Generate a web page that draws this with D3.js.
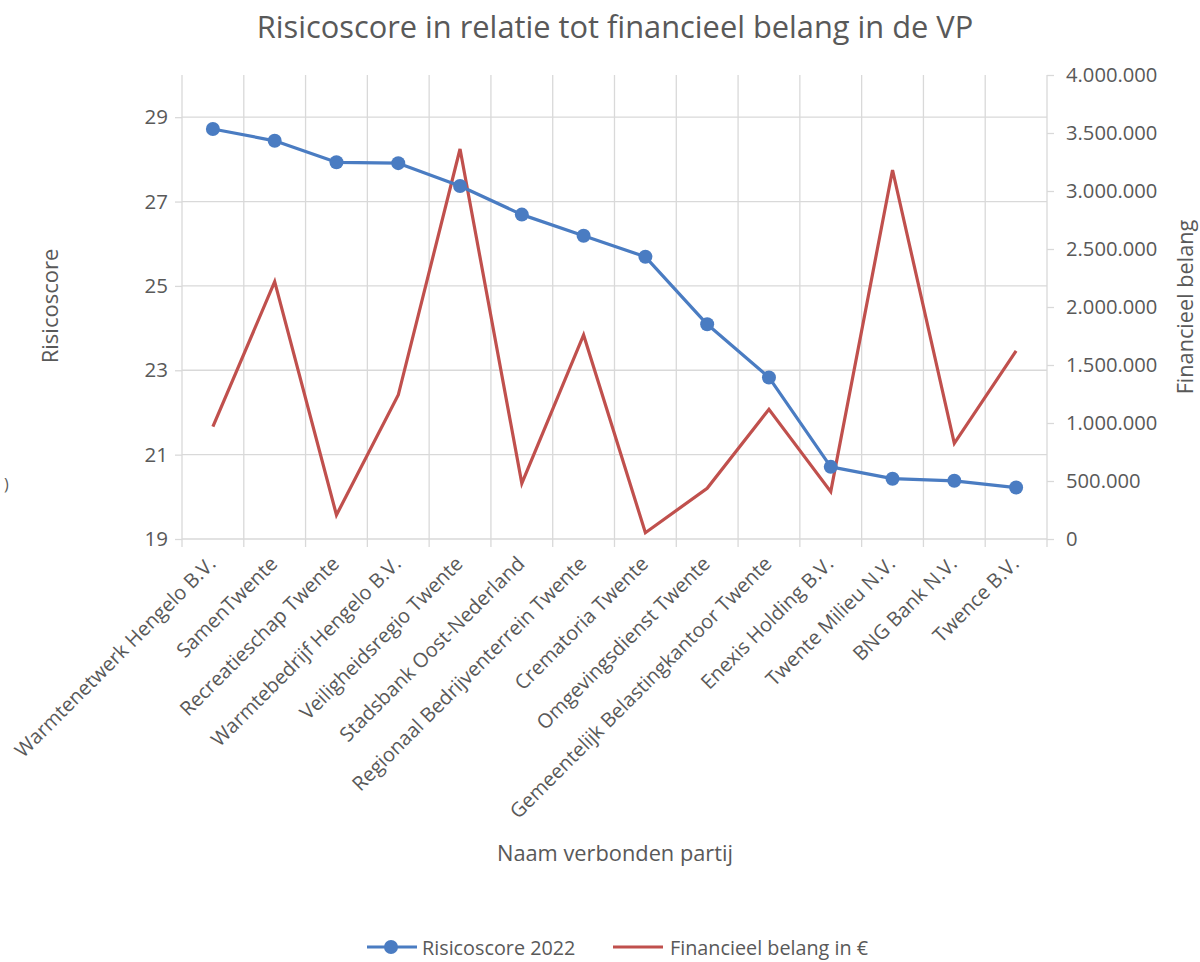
<!DOCTYPE html>
<html>
<head>
<meta charset="utf-8">
<script src="https://cdn.jsdelivr.net/npm/d3@7"></script>
<style>
html,body{margin:0;padding:0;background:#fff;}
svg text{font-family:"Open Sans","Liberation Sans",sans-serif;fill:#595959;}
</style>
</head>
<body>
<svg id="chart" width="1200" height="962"></svg>
<script>
const categories = ["Warmtenetwerk Hengelo B.V.","SamenTwente","Recreatieschap Twente","Warmtebedrijf Hengelo B.V.","Veiligheidsregio Twente","Stadsbank Oost-Nederland","Regionaal Bedrijventerrein Twente","Crematoria Twente","Omgevingsdienst Twente","Gemeentelijk Belastingkantoor Twente","Enexis Holding B.V.","Twente Milieu N.V.","BNG Bank N.V.","Twence B.V."];
const risicoscore = [28.72,28.44,27.93,27.91,27.37,26.69,26.19,25.69,24.09,22.83,20.71,20.43,20.38,20.22];
const financieelBelang = [968000,2218000,207000,1241000,3362000,480000,1759000,54000,437000,1118000,408000,3181000,825000,1621000];
const leftTicks = [19,21,23,25,27,29];
const rightTicks = [0,500000,1000000,1500000,2000000,2500000,3000000,3500000,4000000];

const svg = d3.select("#chart");
const m = {left:182, right:1047, top:75, bottom:539};
const grid = "#d9d9d9";
const blue = "#4a7cc2";
const red = "#c0504d";

const x = d3.scaleBand().domain(categories).range([m.left, m.right]).padding(0);
const yL = d3.scaleLinear().domain([19,30]).range([m.bottom, m.top]);
const yR = d3.scaleLinear().domain([0,4000000]).range([m.bottom, m.top]);
const nl = d3.formatLocale({decimal:",", thousands:".", grouping:[3], currency:["€",""]});
const fmt = nl.format(",d");

// horizontal gridlines
svg.append("g").selectAll("line").data(leftTicks.slice(1)).join("line")
  .attr("x1", m.left).attr("x2", m.right)
  .attr("y1", d=>yL(d)).attr("y2", d=>yL(d))
  .attr("stroke", grid).attr("stroke-width", 1.3);
// vertical gridlines at category boundaries
const bounds = categories.map(c=>x(c)).slice(1);
svg.append("g").selectAll("line").data(bounds).join("line")
  .attr("x1", d=>d).attr("x2", d=>d)
  .attr("y1", m.top).attr("y2", m.bottom + 8)
  .attr("stroke", grid).attr("stroke-width", 1.3);

// left axis
const gL = svg.append("g").attr("transform", `translate(${m.left},0)`)
  .call(d3.axisLeft(yL).tickValues(leftTicks).tickSize(7).tickPadding(7).tickFormat(d3.format("d")));
gL.select(".domain").attr("stroke", grid).attr("stroke-width",1.3).attr("d", `M-0,${m.bottom+8}V${m.top}`);
gL.selectAll(".tick line").attr("stroke", grid).attr("stroke-width",1.3);
gL.selectAll(".tick text").attr("font-size", 20.5).attr("fill", "#595959").style("font-family","'Open Sans',sans-serif");

// right axis
const gR = svg.append("g").attr("transform", `translate(${m.right},0)`)
  .call(d3.axisRight(yR).tickValues(rightTicks).tickSize(7).tickPadding(12).tickFormat(fmt));
gR.select(".domain").attr("stroke", grid).attr("stroke-width",1.3).attr("d", `M0,${m.bottom+8}V${m.top}`);
gR.selectAll(".tick line").attr("stroke", grid).attr("stroke-width",1.3);
gR.selectAll(".tick text").attr("font-size", 20.2).attr("fill", "#595959").style("font-family","'Open Sans',sans-serif");

// bottom axis
const gB = svg.append("g").attr("transform", `translate(0,${m.bottom})`)
  .call(d3.axisBottom(x).tickSize(0).tickPadding(0));
gB.select(".domain").attr("stroke", grid).attr("stroke-width",1.3).attr("d", `M${m.left},0H${m.right}`);
gB.selectAll(".tick text")
  .attr("font-size", 20).attr("fill", "#595959").style("font-family","'Open Sans',sans-serif")
  .attr("text-anchor","end").attr("dy", null)
  .attr("transform","translate(4,26) rotate(-45)");

// red line
svg.append("path").datum(financieelBelang)
  .attr("fill","none").attr("stroke", red).attr("stroke-width", 3.2).attr("stroke-linejoin","miter")
  .attr("d", d3.line().x((d,i)=>x(categories[i]) + x.bandwidth()/2).y(d=>yR(d)));

// blue line
svg.append("path").datum(risicoscore)
  .attr("fill","none").attr("stroke", blue).attr("stroke-width", 3.2).attr("stroke-linejoin","round")
  .attr("d", d3.line().x((d,i)=>x(categories[i]) + x.bandwidth()/2).y(d=>yL(d)));
svg.append("g").selectAll("circle").data(risicoscore).join("circle")
  .attr("cx", (d,i)=>x(categories[i]) + x.bandwidth()/2).attr("cy", d=>yL(d))
  .attr("r", 7).attr("fill", blue);

// title
svg.append("text").attr("x", 615).attr("y", 38).attr("text-anchor","middle")
  .attr("font-size", 30.8).text("Risicoscore in relatie tot financieel belang in de VP");

// axis titles
svg.append("text").attr("transform","translate(58,306) rotate(-90)").attr("text-anchor","middle")
  .attr("font-size", 22).text("Risicoscore");
svg.append("text").attr("transform","translate(1193,307) rotate(-90)").attr("text-anchor","middle")
  .attr("font-size", 21.7).text("Financieel belang");
svg.append("text").attr("x", 615).attr("y", 861).attr("text-anchor","middle")
  .attr("font-size", 21.8).text("Naam verbonden partij");

// stray glyph at left edge
svg.append("text").attr("x", 4).attr("y", 490).attr("font-size", 16).attr("fill","#9a9a9a").text(")");

// legend
const lg = svg.append("g");
lg.append("line").attr("x1",367).attr("x2",417).attr("y1",947).attr("y2",947).attr("stroke",blue).attr("stroke-width",3.2);
lg.append("circle").attr("cx",391).attr("cy",947).attr("r",7).attr("fill",blue);
lg.append("text").attr("x",422).attr("y",955).attr("font-size",19.8).text("Risicoscore 2022");
lg.append("line").attr("x1",613).attr("x2",663).attr("y1",947).attr("y2",947).attr("stroke",red).attr("stroke-width",3.2);
lg.append("text").attr("x",670).attr("y",955).attr("font-size",19.8).text("Financieel belang in €");
</script>
</body>
</html>
